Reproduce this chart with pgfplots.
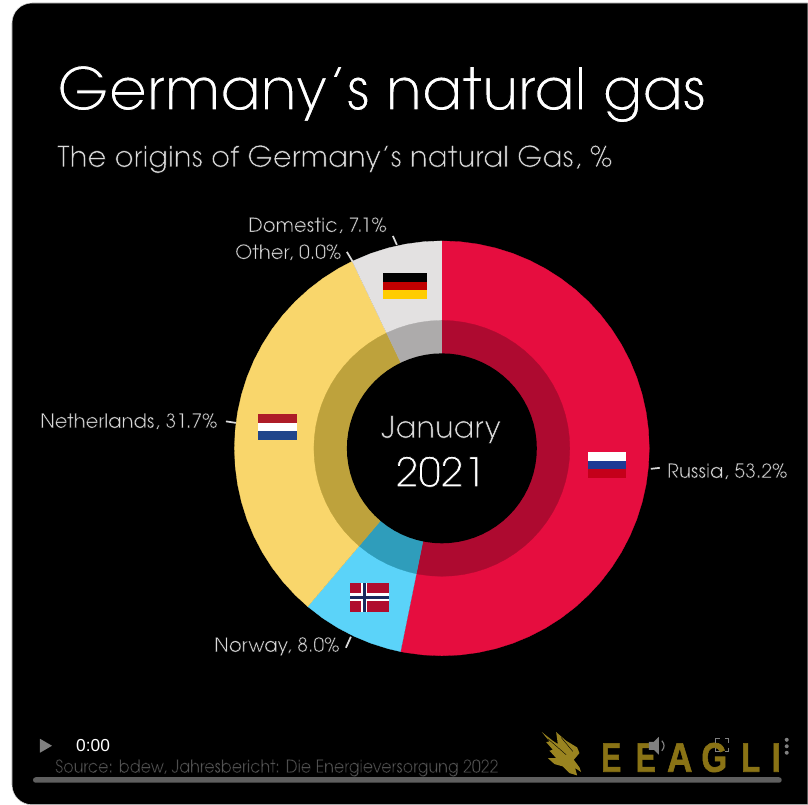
\documentclass[border=0pt]{standalone}
\usepackage{pgfplots}
\usepackage{pgfplotstable}
\usepackage{fontspec}
\pgfplotsset{compat=1.18}
% light letters: outline stroke in black eats into the glyphs
\setmainfont{TeX Gyre Adventor}[FakeBold=1.7]
\newfontfamily\smalltext{TeX Gyre Adventor}[FakeBold=1.1]
\newfontfamily\logofont{Liberation Sans}
\newfontfamily\logobold{Liberation Sans Bold}[FakeBold=1.5]
\newcommand\thn{\special{pdf:code 0 0 0 RG}}

\definecolor{ru}{HTML}{E60D3F}
\definecolor{ruin}{HTML}{AE0A30}
\definecolor{no}{HTML}{5BD3F9}
\definecolor{noin}{HTML}{2F9DBB}
\definecolor{nl}{HTML}{F9D66B}
\definecolor{nlin}{HTML}{BEA23C}
\definecolor{de}{HTML}{E3E1E1}
\definecolor{dein}{HTML}{ADABAB}
\definecolor{lab}{HTML}{DADADA}
\definecolor{gold}{HTML}{8A7315}
\definecolor{wing}{HTML}{9A8420}
\definecolor{src}{HTML}{5A5A5A}
\definecolor{ctl}{HTML}{808080}
\definecolor{bar}{HTML}{5F5F5F}
\definecolor{flagdered}{HTML}{C00000}
\definecolor{flagdegold}{HTML}{FFCC00}
\definecolor{flagnlred}{HTML}{AE1C28}
\definecolor{flagnlblue}{HTML}{21468B}
\definecolor{flagrublue}{HTML}{1E3A94}
\definecolor{flagrured}{HTML}{C4001A}
\definecolor{flagnored}{HTML}{B00D2E}
\definecolor{flagnoblue}{HTML}{1A2A5E}

% angle (degrees), radius of the rim, radius of the dark ring (px)
\pgfplotstableread{
a outer inner
90 0 0
90 207.5 128
85 207.5 128
80 207.5 128
75 207.5 128
70 207.5 128
65 207.5 128
60 207.5 128
55 207.5 128
50 207.5 128
45 207.5 128
40 207.5 128
35 207.5 128
30 207.5 128
25 207.5 128
20 207.5 128
15 207.5 128
10 207.5 128
5 207.5 128
0 207.5 128
-5 207.5 128
-10 207.5 128
-15 207.5 128
-20 207.5 128
-25 207.5 128
-30 207.5 128
-35 207.5 128
-40 207.5 128
-45 207.5 128
-50 207.5 128
-55 207.5 128
-60 207.5 128
-65 207.5 128
-70 207.5 128
-75 207.5 128
-80 207.5 128
-85 207.5 128
-90 207.5 128
-95 207.5 128
-100 207.5 128
-101.5 207.5 128
}\russia
\pgfplotstableread{
a outer inner
-101.5 0 0
-101.5 207.5 128
-105 207.5 128
-110 207.5 128
-115 207.5 128
-120 207.5 128
-125 207.5 128
-130.3 207.5 128
}\norway
\pgfplotstableread{
a outer inner
-130.3 0 0
-130.3 207.5 128
-135 207.5 128
-140 207.5 128
-145 207.5 128
-150 207.5 128
-155 207.5 128
-160 207.5 128
-165 207.5 128
-170 207.5 128
-175 207.5 128
-180 207.5 128
-185 207.5 128
-190 207.5 128
-195 207.5 128
-200 207.5 128
-205 207.5 128
-210 207.5 128
-215 207.5 128
-220 207.5 128
-225 207.5 128
-230 207.5 128
-235 207.5 128
-240 207.5 128
-244.4 207.5 128
}\netherlands
\pgfplotstableread{
a outer inner
115.6 0 0
115.6 207.5 128
110 207.5 128
105 207.5 128
100 207.5 128
95 207.5 128
90 207.5 128
}\domestic
% the hole in the middle
\pgfplotstableread{
a r
0 95
5 95
10 95
15 95
20 95
25 95
30 95
35 95
40 95
45 95
50 95
55 95
60 95
65 95
70 95
75 95
80 95
85 95
90 95
95 95
100 95
105 95
110 95
115 95
120 95
125 95
130 95
135 95
140 95
145 95
150 95
155 95
160 95
165 95
170 95
175 95
180 95
185 95
190 95
195 95
200 95
205 95
210 95
215 95
220 95
225 95
230 95
235 95
240 95
245 95
250 95
255 95
260 95
265 95
270 95
275 95
280 95
285 95
290 95
295 95
300 95
305 95
310 95
315 95
320 95
325 95
330 95
335 95
340 95
345 95
350 95
355 95
}\hole

\begin{document}
\begin{tikzpicture}
% card behind the chart, coordinates in pixels of the reference
\begin{scope}[x=0.75pt,y=-0.75pt]
\fill[white] (0,0) rectangle (808,805);
\path[fill=black,draw=black!15,line width=0.4pt,rounded corners=15pt] (808,3) -- (12,3) -- (12,805) -- (808,805);
\end{scope}

\begin{axis}[
    at={(0,-603.75pt)},anchor=south west,
    scale only axis,
    width=606pt,height=603.75pt,
    xmin=-442,xmax=366,
    ymin=-356.5,ymax=448.5,
    hide axis,
]
\addplot[data cs=polar,fill=ru,draw=ru,line width=0.2pt] table[x=a,y=outer]{\russia};
\addplot[data cs=polar,fill=no,draw=no,line width=0.2pt] table[x=a,y=outer]{\norway};
\addplot[data cs=polar,fill=nl,draw=nl,line width=0.2pt] table[x=a,y=outer]{\netherlands};
\addplot[data cs=polar,fill=de,draw=de,line width=0.2pt] table[x=a,y=outer]{\domestic};
\addplot[data cs=polar,fill=ruin,draw=ruin,line width=0.2pt] table[x=a,y=inner]{\russia};
\addplot[data cs=polar,fill=noin,draw=noin,line width=0.2pt] table[x=a,y=inner]{\norway};
\addplot[data cs=polar,fill=nlin,draw=nlin,line width=0.2pt] table[x=a,y=inner]{\netherlands};
\addplot[data cs=polar,fill=dein,draw=dein,line width=0.2pt] table[x=a,y=inner]{\domestic};
\addplot[data cs=polar,fill=black,draw=none] table[x=a,y=r]{\hole};
\end{axis}

\begin{scope}[x=0.75pt,y=-0.75pt]
% titles
\node[anchor=base west,inner sep=0,text=white,font=\fontsize{44.3}{50}\selectfont] at (57,110) {\thn Germany’s natural gas};
\node[anchor=base west,inner sep=0,text=lab,font=\fontsize{21.9}{23}\selectfont] at (57,167) {\thn The origins of Germany’s natural Gas, \%};
% centre
\node[anchor=base,inner sep=0,text=lab,font=\fontsize{22.9}{25}\selectfont] at (441,438) {\thn January};
\node[anchor=base,inner sep=0,text=white,font=\fontsize{30.5}{30}\selectfont] at (441,487) {\thn 2021};
% slice labels
\begin{scope}[every node/.style={anchor=base west,inner sep=0,text=lab,font=\smalltext\fontsize{14.7}{15}\selectfont}]
\node at (248,232) {\thn Domestic, 7.1\%};
\node at (235,259) {\thn Other, 0.0\%};
\node at (40,428) {\thn Netherlands, 31.7\%};
\node at (667,478) {\thn Russia, 53.2\%};
\node at (214,652) {\thn Norway, 8.0\%};
\end{scope}
\begin{scope}[lab,line width=1.3pt]
\draw (393,236) -- (397,245);
\draw (347,252) -- (353,262);
\draw (226,421.5) -- (236,423);
\draw (651,469) -- (660,468);
\draw (346,648) -- (351,637);
\end{scope}
% flags
\fill[black] (383,273) rectangle (427,282);
\fill[flagdered] (383,282) rectangle (427,290.5);
\fill[flagdegold] (383,290.5) rectangle (427,299);
\fill[flagnlred] (258,414) rectangle (297,423);
\fill[white] (258,423) rectangle (297,431);
\fill[flagnlblue] (258,431) rectangle (297,440);
\fill[white] (588,452) rectangle (626,461);
\fill[flagrublue] (588,461) rectangle (626,469.5);
\fill[flagrured] (588,469.5) rectangle (626,478);
\fill[flagnored] (350,583) rectangle (389,612);
\fill[white] (361,583) rectangle (367.5,612);
\fill[white] (350,593.5) rectangle (389,601.5);
\fill[flagnoblue] (362.7,583) rectangle (365.8,612);
\fill[flagnoblue] (350,595.8) rectangle (389,599.2);
% video controls and logo
\node[anchor=base west,inner sep=0,text=src,font=\smalltext\fontsize{13.5}{15}\selectfont] at (55,773) {\thn\scalebox{0.888}[1]{Source: bdew, Jahresbericht: Die Energieversorgung 2022}};
\begin{scope}[shift={(538,725)},x=0.25pt,y=-0.25pt]
\fill[wing] (12,22) -- (45,48) -- (60,58) -- (55,22) -- (85,48) -- (118,68) -- (125,85) -- (108,105) -- (125,128) -- (130,142) -- (112,130) -- (118,152) -- (95,145) -- (75,125) -- (50,118) -- (30,100) -- (55,100) -- (35,78) -- (45,75) -- (25,52) -- (35,50) -- cycle;
\draw[black,line width=0.3pt] (30,42) -- (85,90);
\draw[black,line width=0.3pt] (70,38) -- (105,80);
\end{scope}
\begin{scope}[every node/.style={anchor=base,inner sep=0,text=gold,font=\logobold\fontsize{31}{31}\selectfont}]
\node at (611.5,772) {\scalebox{0.72}[1]{E}};
\node at (646,772) {\scalebox{0.72}[1]{E}};
\node at (680,772) {\scalebox{0.85}[1]{A}};
\node at (714.5,772) {\scalebox{0.8}[1]{G}};
\node at (751,772) {\scalebox{0.75}[1]{L}};
\node at (776.5,772) {\scalebox{0.8}[1]{I}};
\end{scope}
\fill[ctl] (40,739) -- (52,746) -- (40,753) -- cycle;
\node[anchor=base west,inner sep=0,text=white,font=\logofont\fontsize{13}{13}\selectfont] at (76,752) {0:00};
\fill[bar,rounded corners=2pt] (33,777.5) rectangle (782,783);
\fill[ctl] (649,742) -- (654,742) -- (659,737) -- (659,755) -- (654,750) -- (649,750) -- cycle;
\draw[ctl,line width=0.9pt] (662,741) .. controls (665,744) and (665,748) .. (662,751);
\begin{scope}[ctl,line width=1pt]
\draw (716,743) -- (716,739) -- (720,739);
\draw (725,739) -- (729,739) -- (729,743);
\draw (729,748) -- (729,752) -- (725,752);
\draw (720,752) -- (716,752) -- (716,748);
\end{scope}
\fill[ctl] (787,740) circle (1.5pt);
\fill[ctl] (787,746.5) circle (1.5pt);
\fill[ctl] (787,753) circle (1.5pt);
\end{scope}
\end{tikzpicture}
\end{document}
